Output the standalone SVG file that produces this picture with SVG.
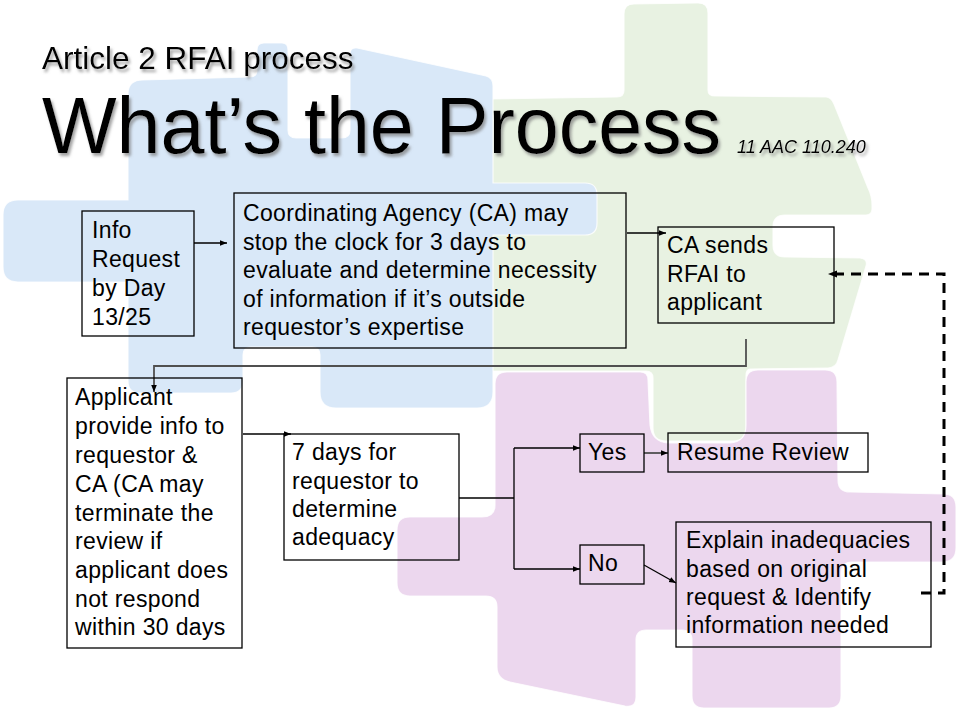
<svg xmlns="http://www.w3.org/2000/svg" width="960" height="720" viewBox="0 0 960 720">
<defs>
<style>
.t{font-family:"Liberation Sans",Arial,Helvetica,sans-serif;font-size:23px;letter-spacing:0.35px;fill:#000}
.box{fill:none;stroke:#000;stroke-width:1.3}
.c{fill:none;stroke:#000;stroke-width:1.3}
.cg{fill:none;stroke:#505050;stroke-width:1.8}
.dash{fill:none;stroke:#000;stroke-width:3;stroke-dasharray:10 7}
.piece{stroke:#ffffff;stroke-width:1.2;stroke-opacity:0.8}
</style>
<marker id="ah" viewBox="0 0 10 10" refX="10" refY="5" markerWidth="7" markerHeight="7" markerUnits="userSpaceOnUse" orient="auto">
<path d="M0,1 L10,5 L0,9 Z" fill="#000"/>
</marker>
<marker id="ahd" viewBox="0 0 10 10" refX="10" refY="5" markerWidth="10" markerHeight="9" markerUnits="userSpaceOnUse" orient="auto">
<path d="M0,1 L10,5 L0,9 Z" fill="#000"/>
</marker>
<filter id="sh" x="-5%" y="-20%" width="110%" height="140%">
<feDropShadow dx="2" dy="3" stdDeviation="1.5" flood-color="#7a7a7a" flood-opacity="0.7"/>
</filter>
</defs>
<rect x="0" y="0" width="960" height="720" fill="#ffffff"/>

<g id="background">
<path class="piece" fill="#e8f2e2" d="M478,112 Q478,99 491,99 L617,97 Q624,97 624,90 L624,14 Q624,4 634,4 L698,3 Q708,3 708,13 L708,90 Q708,96 715,96 L826,97 Q831,97 834,104 L868,188 Q872,196 872,205 L872,209 Q872,215 866,215 L785,215 Q773,215 773,227 L773,245 Q773,257 785,257 L860,258 Q868,259 866,266 L838,360 Q836,368 828,368 L750,369 Q746,369 746,376 L746,428 Q746,441 733,441 L666,441 Q653,441 653,428 L653,378 Q653,371 646,371 L491,371 Q478,371 478,358 Z"/>
<path class="piece" fill="#d9e8f8" d="M143,80 L250,77 Q257,77 257,70 L257,50 Q257,43 264,43 L282,43 Q288,43 288,50 L288,130 Q288,138 296,138 L342,138 Q350,138 350,130 L350,54 Q350,47 357,48 L486,76 Q493,78 493,86 L493,183 L585,183 Q597,183 597,195 L597,223 Q597,235 585,235 L493,235 L493,392 Q493,408 477,408 L336,408 Q320,408 320,392 L320,355 Q320,347 312,347 L251,347 Q243,347 243,355 L243,381 Q243,393 231,393 L140,393 Q128,393 128,381 L128,282 L18,282 Q3,282 3,267 L3,215 Q3,200 18,200 L128,200 L128,94 Q128,80 143,80 Z"/>
<path class="piece" fill="#ecd7ee" d="M507,372 L640,372 Q648,372 648,380 L650,425 Q652,442 668,443 L730,443 Q746,442 746,425 L746,382 Q746,370 758,370 L825,370 Q837,370 837,382 L838,480 Q838,492 850,492 L943,494 Q956,494 956,507 L956,548 Q956,562 942,562 L852,562 Q841,562 841,574 L841,696 Q841,708 829,708 L704,708 Q692,708 692,696 L692,640 Q692,630 682,630 L646,630 Q636,630 636,640 L636,697 Q636,708 625,706 L510,682 Q497,679 497,667 L497,607 Q497,596 486,596 L410,596 Q397,596 397,583 L397,530 Q397,517 410,517 L482,517 Q495,517 495,505 L495,384 Q495,372 507,372 Z"/>
</g>

<g id="title" filter="url(#sh)">
<text x="42" y="69" style="font-family:'Liberation Sans',Arial,sans-serif;font-size:31.5px;fill:#000">Article 2 RFAI process</text>
<text x="42" y="153" style="font-family:'Liberation Sans',Arial,sans-serif;font-size:79px;fill:#000">What’s the Process</text>
<text x="737" y="153" style="font-family:'Liberation Sans',Arial,sans-serif;font-size:18px;font-style:italic;fill:#000">11 AAC 110.240</text>
</g>

<g id="connectors">
<path class="c" d="M194,243 H227" marker-end="url(#ah)"/>
<path class="c" d="M627,233 H666" marker-end="url(#ah)"/>
<path class="cg" d="M746,339 V366 H154 V392" marker-end="url(#ah)"/>
<path class="c" d="M243,434 H291" marker-end="url(#ah)"/>
<path class="c" d="M459,498 H514"/>
<path class="c" d="M514,448 V569"/>
<path class="c" d="M514,448 H580" marker-end="url(#ah)"/>
<path class="c" d="M514,569 H580" marker-end="url(#ah)"/>
<path class="cg" d="M644,453 H668" marker-end="url(#ah)"/>
<path class="c" d="M644,565 L676,583" marker-end="url(#ah)"/>
<path class="dash" d="M921,593 H944 V274 H828" marker-end="url(#ahd)"/>
</g>

<g id="node-info">
<rect class="box" x="82" y="211" width="112" height="125"/>
<text class="t"><tspan x="92" y="238">Info</tspan><tspan x="92" y="267">Request</tspan><tspan x="92" y="296">by Day</tspan><tspan x="92" y="325">13/25</tspan></text>
</g>

<g id="node-coordinating">
<rect class="box" x="234" y="193" width="392" height="155"/>
<text class="t"><tspan x="243" y="221">Coordinating Agency (CA) may</tspan><tspan x="243" y="249.5">stop the clock for 3 days to</tspan><tspan x="243" y="278">evaluate and determine necessity</tspan><tspan x="243" y="306.5">of information if it’s outside</tspan><tspan x="243" y="335">requestor’s expertise</tspan></text>
</g>

<g id="node-ca-sends">
<rect class="box" x="658" y="227" width="176" height="96"/>
<text class="t"><tspan x="667" y="253">CA sends</tspan><tspan x="667" y="282">RFAI to</tspan><tspan x="667" y="310">applicant</tspan></text>
</g>

<g id="node-applicant">
<rect class="box" x="67" y="378" width="175" height="270"/>
<text class="t"><tspan x="75" y="405">Applicant</tspan><tspan x="75" y="434">provide info to</tspan><tspan x="75" y="463">requestor &amp;</tspan><tspan x="75" y="491.5">CA (CA may</tspan><tspan x="75" y="520.5">terminate the</tspan><tspan x="75" y="549">review if</tspan><tspan x="75" y="578">applicant does</tspan><tspan x="75" y="606.5">not respond</tspan><tspan x="75" y="635">within 30 days</tspan></text>
</g>

<g id="node-7days">
<rect class="box" x="284" y="434" width="175" height="126"/>
<text class="t"><tspan x="292" y="460">7 days for</tspan><tspan x="292" y="488.5">requestor to</tspan><tspan x="292" y="517">determine</tspan><tspan x="292" y="545">adequacy</tspan></text>
</g>

<g id="node-yes">
<rect class="box" x="580" y="434" width="64" height="38"/>
<text class="t" x="588" y="460">Yes</text>
</g>

<g id="node-resume">
<rect class="box" x="668" y="433" width="200" height="39"/>
<text class="t" x="677" y="460">Resume Review</text>
</g>

<g id="node-no">
<rect class="box" x="580" y="545" width="64" height="39"/>
<text class="t" x="588" y="571">No</text>
</g>

<g id="node-explain">
<rect class="box" x="676" y="522" width="255" height="125"/>
<text class="t"><tspan x="686" y="548">Explain inadequacies</tspan><tspan x="686" y="576.5">based on original</tspan><tspan x="686" y="605">request &amp; Identify</tspan><tspan x="686" y="633">information needed</tspan></text>
</g>
</svg>
